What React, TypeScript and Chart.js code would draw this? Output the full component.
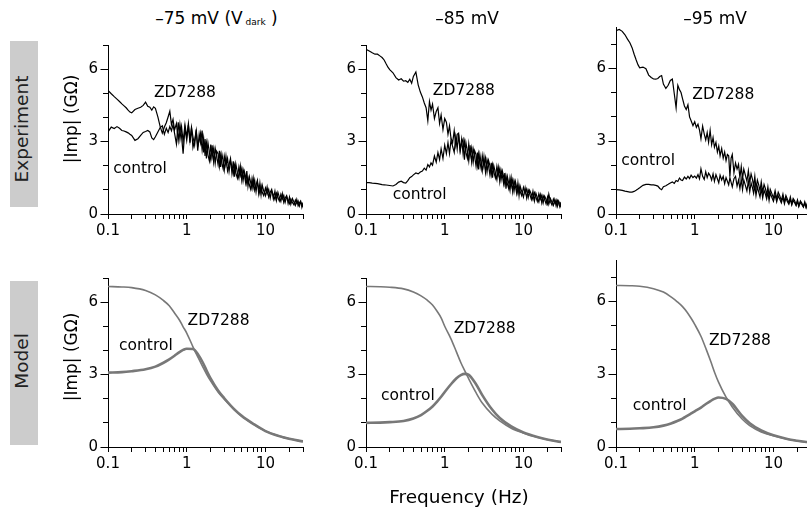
import React, { useEffect, useRef } from 'react';
import { Chart, registerables } from 'chart.js';

Chart.register(...registerables);

const FONT = '"DejaVu Sans", Verdana, sans-serif';

// ---------- data ----------
const EXP_FREQ = [
  0.1, 0.11, 0.12, 0.13, 0.14, 0.15, 0.16, 0.17, 0.18, 0.19,
  0.2, 0.22, 0.24, 0.26, 0.28, 0.3, 0.32, 0.34, 0.36, 0.38,
  0.4, 0.43, 0.46, 0.49, 0.52, 0.55, 0.58, 0.61, 0.64, 0.67,
  0.7, 0.74, 0.78, 0.82, 0.86, 0.9, 0.95, 1.0, 1.05, 1.1,
  1.15, 1.2, 1.26, 1.32, 1.38, 1.44, 1.5, 1.57, 1.64, 1.71,
  1.78, 1.86, 1.94, 2.02, 2.1, 2.2, 2.3, 2.4, 2.5, 2.6,
  2.7, 2.8, 2.9, 3.0, 3.15, 3.3, 3.45, 3.6, 3.75, 3.9,
  4.05, 4.2, 4.4, 4.6, 4.8, 5.0, 5.2, 5.4, 5.6, 5.8,
  6.0, 6.25, 6.5, 6.75, 7.0, 7.3, 7.6, 7.9, 8.2, 8.5,
  8.8, 9.1, 9.5, 10, 10.5, 11, 11.5, 12, 12.6, 13.2,
  13.8, 14.4, 15, 15.7, 16.4, 17.1, 17.8, 18.6, 19.4, 20.2,
  21, 22, 23, 24, 25, 26, 27, 28, 29, 30,
];

const EXP_75_ZD = [
  5.12, 4.98, 4.86, 4.76, 4.66, 4.56, 4.48, 4.40, 4.30, 4.22,
  4.19, 4.33, 4.38, 4.42, 4.50, 4.63, 4.46, 4.42, 4.30, 4.44,
  4.38, 4.02, 3.62, 3.35, 3.60, 3.78, 4.02, 4.26, 3.70, 3.92,
  3.48, 3.75, 3.05, 3.72, 3.20, 2.50, 3.55, 3.05, 3.68, 2.95,
  3.55, 2.75, 3.05, 3.45, 2.62, 3.30, 2.95, 3.46, 2.55, 3.10,
  2.30, 2.95, 2.55, 2.25, 2.85, 2.15, 2.72, 2.40, 2.05, 2.62,
  1.95, 2.48, 2.20, 1.82, 2.40, 1.78, 2.05, 2.30, 1.70, 2.18,
  1.55, 2.08, 1.72, 1.48, 1.98, 1.40, 1.85, 1.62, 1.30, 1.78,
  1.15, 1.55, 1.30, 1.05, 1.48, 0.98, 1.20, 1.40, 0.86, 1.28,
  0.80, 1.20, 0.96, 0.76, 1.12, 0.70, 0.90, 1.02, 0.62, 0.95,
  0.56, 0.90, 0.70, 0.52, 0.84, 0.48, 0.66, 0.76, 0.44, 0.70,
  0.40, 0.64, 0.50, 0.36, 0.60, 0.34, 0.46, 0.54, 0.28, 0.48,
];
const EXP_75_CTRL = [
  3.40, 3.60, 3.54, 3.62, 3.55, 3.46, 3.44, 3.40, 3.36, 3.30,
  3.25, 3.05, 3.12, 3.26, 3.38, 3.42, 3.46, 3.40, 3.15, 3.08,
  3.20, 3.40, 3.58, 3.65, 3.30, 3.55, 3.38, 3.62, 3.45, 3.70,
  3.35, 2.90, 3.80, 3.10, 3.62, 3.00, 3.70, 3.20, 3.75, 3.05,
  3.60, 3.20, 2.85, 3.50, 2.80, 3.05, 3.35, 2.65, 3.15, 2.40,
  2.95, 2.45, 2.20, 2.88, 2.35, 2.72, 2.10, 2.60, 2.50, 1.98,
  2.45, 2.10, 1.88, 2.40, 2.00, 2.30, 1.76, 2.20, 1.95, 1.65,
  2.02, 1.70, 1.48, 1.95, 1.60, 1.88, 1.38, 1.76, 1.55, 1.25,
  1.50, 1.20, 1.02, 1.46, 1.10, 1.40, 0.92, 1.32, 1.08, 0.85,
  1.15, 0.90, 0.76, 1.08, 0.82, 1.02, 0.66, 0.96, 0.80, 0.60,
  0.86, 0.68, 0.54, 0.82, 0.62, 0.77, 0.48, 0.72, 0.58, 0.43,
  0.62, 0.48, 0.38, 0.58, 0.44, 0.54, 0.33, 0.50, 0.40, 0.28,
];
const EXP_85_ZD = [
  6.82, 6.75, 6.68, 6.62, 6.62, 6.55, 6.48, 6.38, 6.22, 6.08,
  5.98, 5.85, 5.65, 5.55, 5.60, 5.50, 5.52, 5.45, 5.58, 5.42,
  5.70, 5.88, 5.35, 5.05, 4.85, 4.60, 4.40, 3.86, 4.66, 4.30,
  4.55, 3.95, 4.25, 4.40, 3.75, 4.10, 3.50, 3.95, 3.80, 3.30,
  3.65, 3.15, 2.95, 3.45, 2.85, 3.30, 3.35, 2.65, 3.10, 2.50,
  3.00, 2.55, 2.30, 2.90, 2.40, 2.75, 2.15, 2.62, 2.45, 2.00,
  2.50, 2.15, 1.88, 2.42, 1.95, 2.32, 1.75, 2.22, 2.00, 1.62,
  2.05, 1.75, 1.50, 1.98, 1.62, 1.88, 1.42, 1.78, 1.55, 1.25,
  1.58, 1.25, 1.05, 1.50, 1.15, 1.42, 0.95, 1.35, 1.10, 0.86,
  1.18, 0.92, 0.76, 1.10, 0.84, 1.04, 0.68, 0.98, 0.82, 0.60,
  0.88, 0.70, 0.52, 0.84, 0.62, 0.78, 0.46, 0.74, 0.60, 0.42,
  0.82, 0.52, 0.38, 0.62, 0.45, 0.58, 0.32, 0.54, 0.42, 0.28,
];
const EXP_85_CTRL = [
  1.30, 1.30, 1.28, 1.27, 1.26, 1.24, 1.22, 1.21, 1.20, 1.19,
  1.18, 1.16, 1.22, 1.32, 1.36, 1.30, 1.28, 1.38, 1.50, 1.55,
  1.62, 1.70, 1.66, 1.74, 1.78, 1.90, 1.82, 2.05, 1.95, 2.12,
  2.02, 2.40, 2.15, 2.55, 2.25, 2.70, 2.30, 2.85, 2.50, 2.95,
  2.50, 3.05, 2.80, 2.55, 3.20, 2.70, 3.30, 2.60, 2.95, 3.10,
  2.25, 2.95, 2.60, 2.20, 2.85, 2.15, 2.70, 2.40, 1.98, 2.55,
  1.85, 2.45, 2.10, 1.78, 2.38, 1.72, 2.25, 2.00, 1.62, 2.12,
  1.50, 2.00, 1.70, 1.42, 1.92, 1.35, 1.82, 1.58, 1.25, 1.70,
  1.05, 1.55, 1.28, 0.98, 1.48, 0.92, 1.38, 1.15, 0.85, 1.28,
  0.76, 1.15, 0.94, 0.70, 1.08, 0.66, 1.00, 0.84, 0.60, 0.94,
  0.54, 0.86, 0.68, 0.50, 0.80, 0.46, 0.76, 0.60, 0.42, 0.70,
  0.40, 0.64, 0.50, 0.36, 0.60, 0.33, 0.56, 0.44, 0.29, 0.50,
];
const EXP_95_ZD = [
  7.55, 7.60, 7.52, 7.38, 7.20, 7.05, 6.85, 6.58, 6.35, 6.15,
  6.02, 6.05, 5.98, 5.72, 5.62, 5.56, 5.55, 5.58, 5.66, 5.70,
  5.35, 5.17, 5.30, 5.50, 5.56, 4.95, 4.37, 5.30, 5.12, 5.00,
  4.75, 4.45, 4.30, 4.50, 4.00, 3.84, 3.64, 3.80, 3.57, 3.70,
  3.45, 3.10, 3.62, 3.30, 3.05, 3.35, 2.95, 3.44, 2.85, 3.15,
  2.75, 2.95, 2.55, 2.80, 2.40, 2.70, 2.30, 2.55, 2.20, 2.45,
  2.40, 1.55, 2.30, 2.45, 1.70, 2.10, 1.85, 2.05, 1.50, 1.95,
  1.45, 1.85, 1.60, 1.35, 1.78, 1.30, 1.65, 1.45, 1.15, 1.55,
  1.05, 1.40, 1.20, 0.95, 1.32, 0.90, 1.22, 1.05, 0.78, 1.12,
  0.74, 1.02, 0.86, 0.66, 0.96, 0.62, 0.90, 0.76, 0.55, 0.82,
  0.50, 0.76, 0.62, 0.46, 0.70, 0.42, 0.64, 0.54, 0.38, 0.58,
  0.34, 0.54, 0.44, 0.30, 0.50, 0.28, 0.46, 0.38, 0.24, 0.42,
];
const EXP_95_CTRL = [
  1.00, 0.99, 0.97, 0.94, 0.92, 0.90, 0.90, 0.93, 0.98, 1.03,
  1.08, 1.18, 1.22, 1.22, 1.20, 1.20, 1.18, 1.15, 1.05, 1.00,
  1.12, 1.16, 1.22, 1.28, 1.32, 1.26, 1.38, 1.34, 1.48, 1.40,
  1.38, 1.52, 1.44, 1.55, 1.46, 1.60, 1.50, 1.56, 1.48, 1.62,
  1.45, 1.86, 1.55, 1.42, 1.74, 1.50, 1.68, 1.58, 1.40, 1.65,
  1.35, 1.62, 1.45, 1.28, 1.60, 1.40, 1.55, 1.25, 1.50, 1.35,
  1.20, 1.50, 1.30, 1.12, 1.45, 1.55, 1.15, 1.40, 1.05, 1.42,
  1.00, 1.40, 1.18, 0.95, 1.35, 0.92, 1.28, 1.10, 0.85, 1.18,
  0.76, 1.12, 0.90, 0.70, 1.04, 0.66, 0.98, 0.82, 0.62, 0.90,
  0.56, 0.86, 0.70, 0.52, 0.80, 0.50, 0.75, 0.62, 0.46, 0.70,
  0.42, 0.66, 0.52, 0.40, 0.60, 0.37, 0.56, 0.46, 0.34, 0.52,
  0.30, 0.48, 0.38, 0.28, 0.45, 0.26, 0.42, 0.34, 0.23, 0.40,
];

const MODEL_FREQ = [0.1, 0.15, 0.2, 0.3, 0.4, 0.5, 0.6, 0.7, 0.8, 0.9, 1, 1.2, 1.4, 1.6, 1.8, 2, 2.5, 3, 4, 5, 7, 10, 15, 20, 30];
const MODEL_75_ZD = [6.65, 6.63, 6.6, 6.48, 6.3, 6.08, 5.85, 5.55, 5.28, 4.98, 4.72, 4.15, 3.7, 3.32, 3.0, 2.75, 2.28, 1.98, 1.55, 1.28, 0.95, 0.66, 0.45, 0.34, 0.23];
const MODEL_75_CTRL = [3.08, 3.1, 3.14, 3.22, 3.33, 3.48, 3.63, 3.78, 3.92, 4.02, 4.07, 4.06, 3.82, 3.5, 3.15, 2.85, 2.34, 2.02, 1.57, 1.29, 0.96, 0.66, 0.45, 0.34, 0.23];
const MODEL_85_ZD = [6.65, 6.64, 6.62, 6.55, 6.42, 6.26, 6.08, 5.88, 5.62, 5.35, 5.0, 4.48, 3.96, 3.5, 3.15, 2.85, 2.25, 1.82, 1.35, 1.08, 0.78, 0.58, 0.4, 0.31, 0.21];
const MODEL_85_CTRL = [1.0, 1.01, 1.03, 1.08, 1.18, 1.32, 1.5, 1.68, 1.88, 2.08, 2.28, 2.6, 2.84, 2.98, 3.03, 3.0, 2.6, 2.15, 1.55, 1.2, 0.85, 0.6, 0.41, 0.31, 0.21];
const MODEL_95_ZD = [6.65, 6.64, 6.62, 6.52, 6.38, 6.18, 5.98, 5.78, 5.55, 5.3, 5.05, 4.56, 4.02, 3.52, 3.05, 2.68, 2.05, 1.65, 1.15, 0.88, 0.62, 0.46, 0.32, 0.25, 0.18];
const MODEL_95_CTRL = [0.74, 0.75, 0.77, 0.81, 0.88, 0.97, 1.07, 1.17, 1.28, 1.38, 1.47, 1.62, 1.78, 1.9, 1.99, 2.04, 1.98, 1.78, 1.28, 0.98, 0.68, 0.48, 0.33, 0.26, 0.18];

const X_TICKS = [0.1, 0.2, 0.3, 0.4, 0.5, 0.6, 0.7, 0.8, 0.9, 1, 2, 3, 4, 5, 6, 7, 8, 9, 10, 20, 30];
const X_TICK_LABELS = [0.1, 1, 10];
const Y_TICKS = [0, 1, 2, 3, 4, 5, 6, 7];
const Y_TICK_LABELS = [0, 3, 6];

const COLUMN_TITLES = ['–75 mV (V', '–85 mV', '–95 mV'];
const ROW_TITLES = ['Experiment', 'Model'];
const Y_TITLE = '|Imp| (GΩ)';
const X_TITLE = 'Frequency (Hz)';
const SERIES_NAMES = ['ZD7288', 'control'];

// ---------- layout ----------
const COL_LEFT = [108, 366, 616];
const ROW_BOTTOM = [214, 447];
const PLOT_W = 195;
const PX_PER_UNIT = 25.33;
const Y_AXIS_W = 60;
const X_AXIS_H = 40;
const PAD_TOP = 6;
const PAD_RIGHT = 8;
const MAJOR_TICK = 8;
const TICK_FONT = 15;
const NOTE_FONT = 15.5;

type PanelSpec = {
  col: number;
  row: number;
  yMax: number;
  model: boolean;
  freq: number[];
  zd: number[];
  ctrl: number[];
  zdLabel: [number, number];
  ctrlLabel: [number, number];
};

const PANELS: PanelSpec[] = [
  { col: 0, row: 0, yMax: 7, model: false, freq: EXP_FREQ, zd: EXP_75_ZD, ctrl: EXP_75_CTRL, zdLabel: [0.95, 5.0], ctrlLabel: [0.255, 1.87] },
  { col: 1, row: 0, yMax: 7, model: false, freq: EXP_FREQ, zd: EXP_85_ZD, ctrl: EXP_85_CTRL, zdLabel: [1.75, 5.1], ctrlLabel: [0.48, 0.77] },
  { col: 2, row: 0, yMax: 7.7, model: false, freq: EXP_FREQ, zd: EXP_95_ZD, ctrl: EXP_95_CTRL, zdLabel: [2.31, 4.9], ctrlLabel: [0.256, 2.2] },
  { col: 0, row: 1, yMax: 7, model: true, freq: MODEL_FREQ, zd: MODEL_75_ZD, ctrl: MODEL_75_CTRL, zdLabel: [2.54, 5.2], ctrlLabel: [0.303, 4.2] },
  { col: 1, row: 1, yMax: 7, model: true, freq: MODEL_FREQ, zd: MODEL_85_ZD, ctrl: MODEL_85_CTRL, zdLabel: [3.22, 4.88], ctrlLabel: [0.34, 2.1] },
  { col: 2, row: 1, yMax: 7.7, model: true, freq: MODEL_FREQ, zd: MODEL_95_ZD, ctrl: MODEL_95_CTRL, zdLabel: [3.75, 4.37], ctrlLabel: [0.358, 1.71] },
];

const near = (list: number[], v: number) => list.some((t) => Math.abs(t - v) < 1e-9);
const align = (p: number) => Math.round(p - 0.5) + 0.5;

const majorTickPlugin = {
  id: 'majorTicks',
  afterDraw(chart: any) {
    const y = chart.scales.y;
    const ctx = chart.ctx;
    ctx.save();
    ctx.strokeStyle = '#000';
    ctx.lineWidth = 1;
    Y_TICK_LABELS.forEach((v) => {
      const py = align(y.getPixelForValue(v));
      const px = align(chart.chartArea.left);
      ctx.beginPath();
      ctx.moveTo(px - MAJOR_TICK, py);
      ctx.lineTo(px, py);
      ctx.stroke();
    });
    ctx.restore();
  },
};

function makeLabelPlugin(p: PanelSpec) {
  return {
    id: 'seriesLabels',
    afterDatasetsDraw(chart: any) {
      const { ctx } = chart;
      const xs = chart.scales.x;
      const ys = chart.scales.y;
      ctx.save();
      ctx.font = `${NOTE_FONT}px ${FONT}`;
      ctx.fillStyle = '#000';
      ctx.textAlign = 'center';
      ctx.textBaseline = 'middle';
      const items: [string, [number, number]][] = [
        [SERIES_NAMES[0], p.zdLabel],
        [SERIES_NAMES[1], p.ctrlLabel],
      ];
      items.forEach(([text, [f, v]]) => {
        ctx.fillText(text, xs.getPixelForValue(f), ys.getPixelForValue(v));
      });
      ctx.restore();
    },
  };
}

function Panel({ spec }: { spec: PanelSpec }) {
  const ref = useRef<HTMLCanvasElement>(null);
  const plotH = Math.round(spec.yMax * PX_PER_UNIT);
  const left = COL_LEFT[spec.col] - Y_AXIS_W;
  const top = ROW_BOTTOM[spec.row] - plotH - PAD_TOP;
  const width = Y_AXIS_W + PLOT_W + PAD_RIGHT;
  const height = PAD_TOP + plotH + X_AXIS_H;

  useEffect(() => {
    if (!ref.current) return;
    const color = spec.model ? '#787878' : '#000000';
    const pts = (ys: number[]) => spec.freq.map((x, i) => ({ x, y: ys[i] }));
    const common = {
      borderColor: color,
      pointRadius: 0,
      fill: false,
      tension: 0,
      cubicInterpolationMode: spec.model ? 'monotone' : 'default',
    };
    const tickFont = { family: FONT, size: TICK_FONT };
    const chart = new Chart(ref.current, {
      type: 'line',
      data: {
        datasets: [
          { ...common, label: SERIES_NAMES[0], data: pts(spec.zd), borderWidth: spec.model ? 1.6 : 1.2 },
          { ...common, label: SERIES_NAMES[1], data: pts(spec.ctrl), borderWidth: spec.model ? 2.6 : 1.2 },
        ],
      } as any,
      options: {
        responsive: false,
        animation: false,
        devicePixelRatio: 1,
        events: [],
        layout: { padding: { top: PAD_TOP, right: PAD_RIGHT, left: 0, bottom: 0 } },
        plugins: { legend: { display: false }, tooltip: { enabled: false }, title: { display: false } },
        scales: {
          x: {
            type: 'logarithmic',
            min: 0.1,
            max: 30,
            afterBuildTicks: (s: any) => {
              s.ticks = X_TICKS.map((value) => ({ value }));
            },
            afterFit: (s: any) => {
              s.height = X_AXIS_H;
            },
            grid: { display: true, drawOnChartArea: false, drawTicks: true, tickLength: 5, color: '#000', lineWidth: 1 },
            border: { display: true, color: '#000', width: 1 },
            ticks: {
              autoSkip: false,
              maxRotation: 0,
              minRotation: 0,
              padding: 3,
              color: '#000',
              font: tickFont,
              callback: (v: any) => (near(X_TICK_LABELS, Number(v)) ? String(Number(v)) : ''),
            },
          },
          y: {
            type: 'linear',
            min: 0,
            max: spec.yMax,
            afterBuildTicks: (s: any) => {
              s.ticks = Y_TICKS.filter((v) => v <= spec.yMax).map((value) => ({ value }));
            },
            afterFit: (s: any) => {
              s.width = Y_AXIS_W;
            },
            grid: { display: true, drawOnChartArea: false, drawTicks: true, tickLength: 5, color: '#000', lineWidth: 1 },
            border: { display: true, color: '#000', width: 1 },
            ticks: {
              autoSkip: false,
              padding: 5,
              color: '#000',
              font: tickFont,
              callback: (v: any) => (near(Y_TICK_LABELS, Number(v)) ? String(Number(v)) : ''),
            },
          },
        },
      } as any,
      plugins: [majorTickPlugin, makeLabelPlugin(spec)],
    });
    return () => chart.destroy();
  }, [spec]);

  return (
    <canvas
      ref={ref}
      width={width}
      height={height}
      style={{ position: 'absolute', left, top, width, height }}
    />
  );
}

function Rotated({ cx, cy, size, color, children }: any) {
  return (
    <div
      style={{
        position: 'absolute',
        left: cx,
        top: cy,
        transform: 'translate(-50%, -50%) rotate(-90deg)',
        fontSize: size,
        lineHeight: 'normal',
        whiteSpace: 'nowrap',
        color,
      }}
    >
      {children}
    </div>
  );
}

function TopText({ cx, baseline, size, children }: any) {
  return (
    <div
      style={{
        position: 'absolute',
        left: cx,
        top: baseline - 0.928 * size,
        transform: 'translateX(-50%)',
        fontSize: size,
        lineHeight: 'normal',
        whiteSpace: 'nowrap',
        color: '#000',
      }}
    >
      {children}
    </div>
  );
}

const TITLE_X = [216.5, 467, 715];

export default function App() {
  return (
    <div
      style={{
        position: 'fixed',
        left: 0,
        top: 0,
        width: 807,
        height: 508,
        overflow: 'hidden',
        background: '#fff',
        fontFamily: FONT,
      }}
    >
      {PANELS.map((p, i) => (
        <Panel key={i} spec={p} />
      ))}

      <div style={{ position: 'absolute', left: 10, top: 41, width: 28, height: 166, background: '#cccccc' }} />
      <div style={{ position: 'absolute', left: 10, top: 281, width: 28, height: 164, background: '#cccccc' }} />
      <Rotated cx={21} cy={129} size={18.5} color="#222">{ROW_TITLES[0]}</Rotated>
      <Rotated cx={21} cy={361} size={18.5} color="#222">{ROW_TITLES[1]}</Rotated>

      <Rotated cx={71} cy={118.5} size={17} color="#000">{Y_TITLE}</Rotated>
      <Rotated cx={71} cy={356.5} size={17} color="#000">{Y_TITLE}</Rotated>

      <TopText cx={TITLE_X[0]} baseline={23.3} size={17}>
        {COLUMN_TITLES[0]}
        <span style={{ fontSize: 9, position: 'relative', top: 1 }}> dark</span>
        {' )'}
      </TopText>
      <TopText cx={TITLE_X[1]} baseline={23.3} size={17}>
        {COLUMN_TITLES[1]}
      </TopText>
      <TopText cx={TITLE_X[2]} baseline={23.3} size={17}>
        {COLUMN_TITLES[2]}
      </TopText>

      <TopText cx={459} baseline={503} size={18.5}>
        {X_TITLE}
      </TopText>
    </div>
  );
}
